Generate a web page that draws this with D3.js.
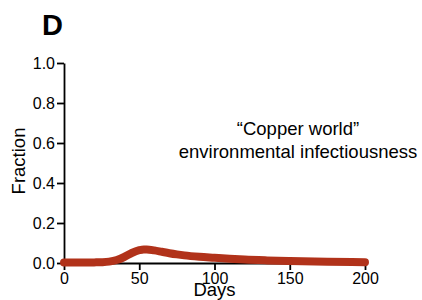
<!DOCTYPE html>
<html>
<head>
<meta charset="utf-8">
<script src="https://cdn.jsdelivr.net/npm/d3@7"></script>
<style>
  body { margin: 0; background: #fff; }
  svg { display: block; font-family: "Liberation Sans", Arial, Helvetica, sans-serif; }
  .axis path, .axis line { stroke: #000; stroke-width: 1.8; }
  .axis text { font-size: 16px; fill: #000; }
</style>
</head>
<body>
<div id="chart"></div>
<script>
// values
const days = [0, 10, 20, 25, 30, 35, 40, 45, 50, 53, 55, 60, 65, 70, 75, 80, 90, 100, 110, 120, 135, 150, 175, 200];
const fraction = [0.002, 0.002, 0.003, 0.004, 0.007, 0.015, 0.03, 0.05, 0.064, 0.068, 0.068, 0.063, 0.056, 0.049, 0.043, 0.038, 0.031, 0.026, 0.021, 0.017, 0.013, 0.01, 0.006, 0.004];
const xTicks = [0, 50, 100, 150, 200];
const yTicks = [0, 0.2, 0.4, 0.6, 0.8, 1.0];
const annotation = ["\u201cCopper world\u201d", "environmental infectiousness"];

let svgWidth = 422,
    svgHeight = 300;
let margins = {left: 64, top: 63, right: 57, bottom: 37},
    width = svgWidth - margins.left - margins.right,
    height = svgHeight - margins.top - margins.bottom;

let x = d3.scaleLinear().domain([0, 200]).range([0, width]),
    y = d3.scaleLinear().domain([0, 1]).range([height, 0]);

let root = d3.select("#chart").append("svg")
    .attr("width", svgWidth)
    .attr("height", svgHeight);

// panel letter
root.append("text")
    .attr("x", 42)
    .attr("y", 35)
    .attr("font-size", 29)
    .attr("font-weight", "bold")
    .text("D");

let svg = root.append("g")
    .attr("transform", `translate(${margins.left}, ${margins.top})`);

//Axes
svg.append("g")
    .attr("class", "axis")
    .call(d3.axisLeft(y).tickValues(yTicks).tickFormat(d3.format(".1f"))
        .tickSize(7).tickSizeOuter(0).tickPadding(2));

svg.append("g")
    .attr("class", "axis")
    .attr("transform", `translate(0, ${height})`)
    .call(d3.axisBottom(x).tickValues(xTicks)
        .tickSize(7).tickSizeOuter(0).tickPadding(3));

//Axis titles
svg.append("text")
    .attr("transform", `translate(${-39}, ${98}) rotate(-90)`)
    .attr("text-anchor", "middle")
    .attr("font-size", 18.5)
    .text("Fraction");

svg.append("text")
    .attr("x", width / 2)
    .attr("y", height + 33)
    .attr("text-anchor", "middle")
    .attr("font-size", 18.5)
    .text("Days");

//Line
let line = d3.line()
    .x((d, i) => x(days[i]))
    .y(d => y(d))
    .curve(d3.curveMonotoneX);

svg.append("path")
    .datum(fraction)
    .attr("fill", "none")
    .attr("stroke", "#b1321a")
    .attr("stroke-width", 8)
    .attr("stroke-linecap", "round")
    .attr("stroke-linejoin", "round")
    .attr("d", line);

//Annotation
svg.append("g")
    .selectAll("text")
    .data(annotation)
    .enter().append("text")
    .attr("x", 234)
    .attr("y", (d, i) => 72 + i * 23)
    .attr("text-anchor", "middle")
    .attr("font-size", 18.5)
    .text(d => d);
</script>
</body>
</html>
